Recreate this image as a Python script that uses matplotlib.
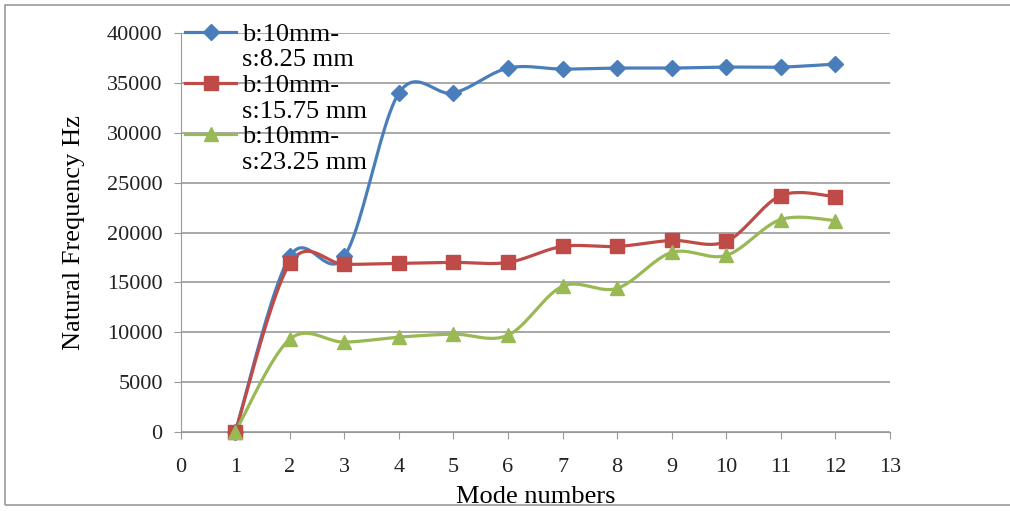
import numpy as np
import matplotlib
matplotlib.use("Agg")
import matplotlib.pyplot as plt
from matplotlib.lines import Line2D
from matplotlib.patches import Rectangle

modes = [1, 2, 3, 4, 5, 6, 7, 8, 9, 10, 11, 12]
freq_s825 = [0, 17600, 17600, 34000, 34000, 36500, 36400, 36500, 36500, 36600, 36600, 36900]
freq_s1575 = [0, 16900, 16800, 16900, 17000, 17000, 18600, 18600, 19200, 19100, 23700, 23600]
freq_s2325 = [0, 9300, 9000, 9500, 9800, 9700, 14600, 14400, 18000, 17700, 21300, 21200]
labels = ["b:10mm-\ns:8.25 mm", "b:10mm-\ns:15.75 mm", "b:10mm-\ns:23.25 mm"]
colors = ["#4A7EBB", "#BE4B48", "#98B954"]
markers = ["D", "s", "^"]
msizes = [8, 10, 10]


def smooth(x, y, n=24):
    # Excel-like smoothed line: bezier through the points
    x = np.asarray(x, float)
    y = np.asarray(y, float)
    px = np.concatenate([[x[0]], x, [x[-1]]])
    py = np.concatenate([[y[0]], y, [y[-1]]])
    xs, ys = [], []
    t = np.linspace(0, 1, n)
    for i in range(1, len(px) - 2):
        p0 = np.array([px[i], py[i]])
        p3 = np.array([px[i + 1], py[i + 1]])
        c1 = p0 + (np.array([px[i + 1], py[i + 1]]) - np.array([px[i - 1], py[i - 1]])) / 6
        c2 = p3 - (np.array([px[i + 2], py[i + 2]]) - np.array([px[i], py[i]])) / 6
        b = ((1 - t) ** 3)[:, None] * p0 + (3 * (1 - t) ** 2 * t)[:, None] * c1 \
            + (3 * (1 - t) * t ** 2)[:, None] * c2 + (t ** 3)[:, None] * p3
        xs.extend(b[:, 0])
        ys.extend(b[:, 1])
    return xs, ys


plt.rcParams['font.family'] = ['Liberation Serif', 'DejaVu Serif']

fig = plt.figure(figsize=(10.1, 5.11), dpi=100)
ax = fig.add_axes([0.179, 0.155, 0.702, 0.78])

series = [freq_s825, freq_s1575, freq_s2325]
for vals, c, m, ms in zip(series, colors, markers, msizes):
    sx, sy = smooth(modes, vals)
    ax.plot(sx, sy, color=c, lw=2.3, zorder=3)
    ax.plot(modes, vals, linestyle="none", marker=m, ms=ms, color=c, zorder=4, clip_on=False)

ax.set_xlim(0, 13)
ax.set_ylim(0, 40000)
ax.set_xticks(range(0, 14))
ax.set_yticks(range(0, 40001, 5000))
ax.yaxis.grid(True, color="#999999", lw=1.2)
ax.set_axisbelow(True)
for s in ["top", "right"]:
    ax.spines[s].set_visible(False)
ax.spines["left"].set_color("#999999")
ax.spines["bottom"].set_color("#999999")
ax.tick_params(axis="both", colors="#999999", labelcolor="#222222", labelsize=16, length=5)
ax.tick_params(axis="x", pad=14)
ax.tick_params(axis="y", pad=8)
ax.set_xlabel("Mode numbers", fontsize=19, labelpad=6)
ax.set_ylabel("Natural Frequency Hz", fontsize=19, labelpad=16)

# legend with wrapped labels, handle on first line
blank = Line2D([], [], linestyle="none")
handles, leg_labels = [], []
for lab, c, m, ms in zip(labels, colors, markers, msizes):
    first, second = lab.split("\n")
    handles.append(Line2D([], [], color=c, lw=2.3, marker=m, ms=ms))
    leg_labels.append(first)
    handles.append(blank)
    leg_labels.append(second)
leg = ax.legend(handles, leg_labels, loc="upper left", bbox_to_anchor=(0.17, 0.982),
                bbox_transform=fig.transFigure, frameon=False, fontsize=19,
                labelspacing=0.08, handlelength=1.95, handletextpad=0.2, borderpad=0)

fig.add_artist(Rectangle((0.005, 0.012), 1.2, 0.978, transform=fig.transFigure,
                         fill=False, edgecolor="#9a9a9a", lw=1.2))

fig.savefig("out.png", dpi=100)
